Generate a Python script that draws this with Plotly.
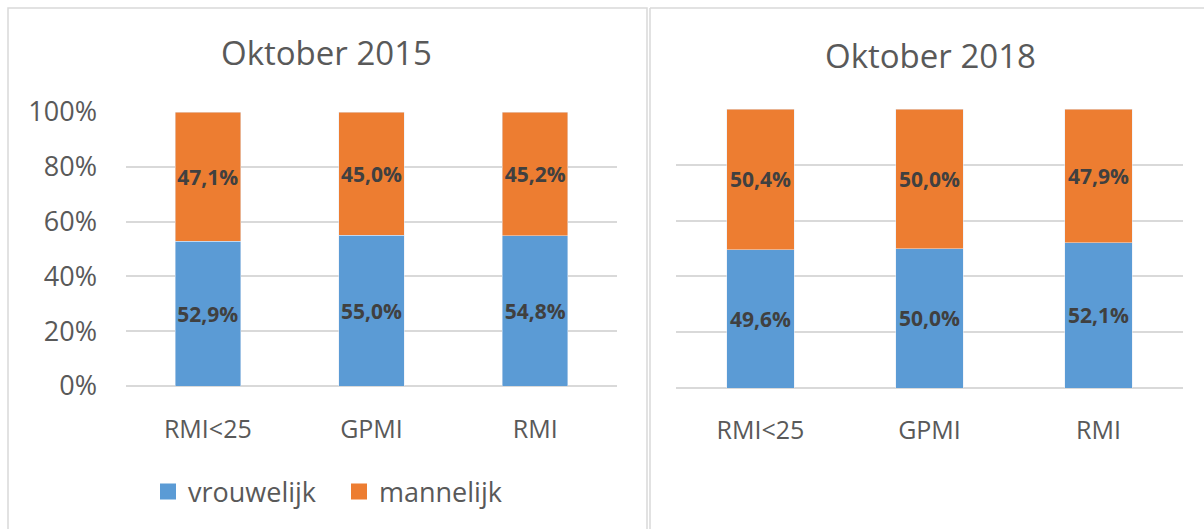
import plotly.graph_objects as go

categories = ["RMI<25", "GPMI", "RMI"]
vrouw_2015 = [52.9, 55.0, 54.8]
mann_2015 = [47.1, 45.0, 45.2]
vrouw_2018 = [49.6, 50.0, 52.1]
mann_2018 = [50.4, 50.0, 47.9]
tick_vals = [0, 20, 40, 60, 80, 100]
tick_text = ["0%", "20%", "40%", "60%", "80%", "100%"]

BLUE = "#5B9BD5"
ORANGE = "#ED7D31"
FONT = "Open Sans"
W, H = 1204, 529

def fmt(v):
    return f"{v:.1f}%".replace(".", ",")

fig = go.Figure()
common = dict(textposition="inside", insidetextanchor="middle", constraintext="none",
              textangle=0,
              textfont=dict(family=FONT, size=21, color="#404040", weight="bold"),
              width=0.4, hoverinfo="skip", showlegend=False)
fig.add_trace(go.Bar(x=categories, y=vrouw_2015, name="vrouwelijk", marker_color=BLUE,
                     text=[fmt(v) for v in vrouw_2015], xaxis="x", yaxis="y", **common))
fig.add_trace(go.Bar(x=categories, y=mann_2015, name="mannelijk", marker_color=ORANGE,
                     text=[fmt(v) for v in mann_2015], xaxis="x", yaxis="y", **common))
fig.add_trace(go.Bar(x=categories, y=vrouw_2018, name="vrouwelijk", marker_color=BLUE,
                     text=[fmt(v) for v in vrouw_2018], xaxis="x2", yaxis="y2", **common))
fig.add_trace(go.Bar(x=categories, y=mann_2018, name="mannelijk", marker_color=ORANGE,
                     text=[fmt(v) for v in mann_2018], xaxis="x2", yaxis="y2", **common))
# legend entries (square symbols like the original)
for nm, col in [("vrouwelijk", BLUE), ("mannelijk", ORANGE)]:
    fig.add_trace(go.Scatter(x=[None], y=[None], mode="markers", name=nm,
                             marker=dict(symbol="square", size=18, color=col),
                             xaxis="x", yaxis="y", showlegend=True))

axis_font = dict(family=FONT, size=27, color="#595959")
cat_font = dict(family=FONT, size=25, color="#595959")
fig.update_layout(
    width=W, height=H, barmode="stack",
    margin=dict(l=0, r=0, t=0, b=0, autoexpand=False),
    paper_bgcolor="white", plot_bgcolor="white",
    font=dict(family=FONT, color="#595959"),
    xaxis=dict(domain=[126 / W, 617 / W], anchor="y", tickfont=cat_font,
               showgrid=False, ticks="", showline=False, automargin=False,
               ticklabelstandoff=26),
    yaxis=dict(domain=[1 - 386 / H, 1 - 112 / H], anchor="x", range=[0, 100],
               tickvals=tick_vals, ticktext=tick_text, tickfont=axis_font,
               gridcolor="#D9D9D9", gridwidth=2, zeroline=True,
               zerolinecolor="#D9D9D9", zerolinewidth=2, ticklabelstandoff=28,
               automargin=False),
    xaxis2=dict(domain=[676 / W, 1183 / W], anchor="y2", tickfont=cat_font,
                showgrid=False, ticks="", showline=False, automargin=False,
                ticklabelstandoff=25),
    yaxis2=dict(domain=[1 - 388 / H, 1 - 109 / H], anchor="x2", range=[0, 100],
                tickvals=tick_vals, showticklabels=False,
                gridcolor="#D9D9D9", gridwidth=2, zeroline=True,
                zerolinecolor="#D9D9D9", zerolinewidth=2, automargin=False),
    legend=dict(orientation="h", x=148 / W, xanchor="left", y=1 - 492 / H,
                yanchor="middle", font=dict(family=FONT, size=27, color="#595959"),
                traceorder="normal", itemwidth=30, entrywidthmode="pixels",
                entrywidth=146, bgcolor="rgba(0,0,0,0)", tracegroupgap=0),
    showlegend=True,
    annotations=[
        dict(text="Oktober 2015", x=327 / W, y=1 - 53 / H, xref="paper", yref="paper",
             showarrow=False, font=dict(family=FONT, size=33, color="#595959"),
             xanchor="center", yanchor="middle"),
        dict(text="Oktober 2018", x=930 / W, y=1 - 55 / H, xref="paper", yref="paper",
             showarrow=False, font=dict(family=FONT, size=33, color="#595959"),
             xanchor="center", yanchor="middle"),
    ],
    shapes=[
        dict(type="rect", xref="paper", yref="paper", x0=8 / W, x1=647 / W,
             y0=-0.01, y1=1 - 8 / H, line=dict(color="#D9D9D9", width=1.5),
             fillcolor="rgba(0,0,0,0)", layer="below"),
        dict(type="line", xref="paper", yref="paper", x0=650 / W, x1=650 / W,
             y0=-0.01, y1=1 - 8 / H, line=dict(color="#D9D9D9", width=1.5)),
        dict(type="line", xref="paper", yref="paper", x0=650 / W, x1=1.0,
             y0=1 - 8 / H, y1=1 - 8 / H, line=dict(color="#D9D9D9", width=1.5)),
    ],
)
fig.write_html("out.html", config={"displayModeBar": False},
               post_script="document.body.style.margin='0';")
